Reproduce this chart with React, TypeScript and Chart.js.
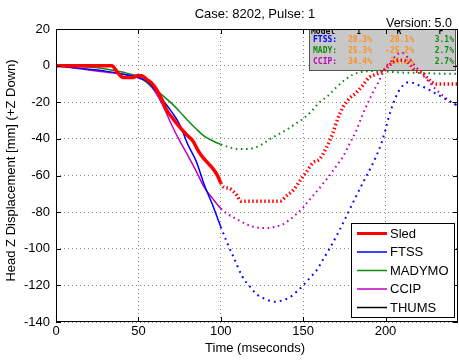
import React, { useEffect, useRef } from "react";
import { Chart, registerables } from "chart.js";

Chart.register(...registerables);

// ---------------- data ----------------
const chartTitle = "Case: 8202, Pulse: 1";
const versionText = "Version: 5.0";
const xAxisTitle = "Time (mseconds)";
const yAxisTitle = "Head Z Displacement [mm] (+Z Down)";

const xTickValues = [0, 50, 100, 150, 200];
const yTickValues = [20, 0, -20, -40, -60, -80, -100, -120, -140];
const xMin = 0;
const xMax = 244;
const yMin = -140;
const yMax = 20;
const predictionStart = 100; // after this time the curves are dotted

const sledTime = [0, 10, 20, 30, 34, 36, 39, 41, 47, 49, 52, 55, 58, 61, 64, 67, 71, 75, 79, 83, 86, 89, 92, 95, 98, 100,
  102, 105, 108, 110, 112, 120, 128, 136, 140, 144, 148, 152, 156, 160, 164, 168, 171, 174, 178, 182, 186, 190, 195, 199, 202, 206, 210, 214, 218, 222, 225, 228, 231, 236, 240, 244];
const sledDisp = [0, 0, 0, 0, 0, -2, -5.5, -6.5, -6.5, -5.5, -5.5, -7.5, -9.5, -13, -18, -24, -29, -33.5, -37.5, -41, -46, -50, -53, -56, -60, -64,
  -66.5, -67, -69, -71, -74, -74, -74, -74, -71, -68, -63, -58, -53, -51, -45, -37, -29, -23, -18, -15, -11, -6.5, -4.5, -2.7, 0, 2.5, 3, 1.5, -2.7, -3.6, -6.4, -9, -10, -10, -10, -10];

const ftssTime = [0, 10, 20, 30, 40, 50, 55, 60, 65, 70, 75, 80, 85, 90, 95, 100,
  104, 108, 113, 118, 122, 127, 133, 138, 142, 146, 150, 154, 158, 162, 166, 172, 178, 184, 188, 192, 196, 198, 200, 202, 205, 208, 211, 214, 217, 221, 225, 229, 233, 237, 240, 244];
const ftssDisp = [0, -1, -2, -3, -4.5, -6.5, -8.5, -13, -19, -25, -32, -43, -52, -65, -76, -88,
  -97, -105, -115, -121, -125, -127.5, -129, -128, -126.5, -123.5, -120, -116, -112, -106, -100, -90, -79, -68, -61, -54, -46, -41, -35, -28, -20, -14, -10.5, -9, -9.5, -11, -12.5, -14.5, -16.5, -18.5, -20, -22];

const madymoTime = [0, 10, 20, 30, 40, 50, 55, 60, 65, 70, 75, 80, 85, 90, 95, 100,
  105, 110, 115, 120, 125, 130, 135, 140, 145, 150, 155, 160, 165, 170, 175, 180, 185, 190, 195, 200, 210, 220, 230, 240, 244];
const madymoDisp = [0, -0.3, -0.8, -1.8, -3.5, -6, -9, -13, -16.5, -20.5, -25, -30, -34.5, -38.5, -41, -43,
  -44.5, -45.5, -45.5, -45, -43, -40, -37.5, -35, -32, -29, -25, -20, -16.5, -12, -8, -5, -3.5, -3, -3, -3.2, -3.8, -4, -4.3, -4.5, -4.5];

const ccipTime = [0, 10, 20, 30, 37, 45, 50, 55, 60, 65, 70, 75, 80, 85, 90, 95, 100,
  104, 108, 113, 118, 123, 128, 133, 138, 142, 146, 150, 154, 158, 162, 166, 170, 174, 178, 182, 186, 190, 193, 196, 200, 204, 207, 210, 213, 217, 221, 225, 229, 233, 237, 240, 244];
const ccipDisp = [0, -1.2, -2.4, -3.5, -4.3, -5.5, -6.7, -9, -14, -22, -32, -41, -49, -57.5, -66.5, -72.5, -78,
  -81, -83, -85.5, -87.5, -88.5, -88.7, -88, -86.5, -84, -81, -77.5, -73, -69, -64.5, -60, -55, -50, -43, -36, -27, -19, -13.5, -8.5, -1, 3, 6, 7, 5, 1, -3.5, -7.5, -11.5, -15, -18, -20, -22];

const thumsTime: number[] = [];
const thumsDisp: number[] = [];

const seriesNames = ["Sled", "FTSS", "MADYMO", "CCIP", "THUMS"];
const seriesColors = ["#ff0000", "#0000ff", "#108a10", "#c000c0", "#000000"];

const tableHeader = ["Model", "I", "R", "F"];
const tableModels = ["FTSS:", "MADY:", "CCIP:"];
const tableModelColors = ["#0000ff", "#108a10", "#c000c0"];
const tableI = ["28.3%", "25.3%", "34.4%"];
const tableR = ["28.1%", "-25.2%", "34.3%"];
const tableF = ["3.1%", "2.7%", "2.7%"];

// ---------------- helpers ----------------
const SANS = '"Liberation Sans", Arial, Helvetica, sans-serif';
const MONO = '"DejaVu Sans Mono", "Liberation Mono", monospace';

const toPoints = (t: number[], v: number[]) => t.map((x, i) => ({ x, y: v[i] }));

function lineDataset(label: string, t: number[], v: number[], color: string, solidW: number, dotW: number, dash: number[]) {
  return {
    label,
    data: toPoints(t, v),
    borderColor: color,
    backgroundColor: color,
    borderWidth: solidW,
    pointRadius: 0,
    tension: 0,
    cubicInterpolationMode: "monotone" as const,
    segment: {
      borderDash: (c: any) => (c.p0.parsed.x >= predictionStart ? dash : undefined),
      borderWidth: (c: any) => (c.p0.parsed.x >= predictionStart ? dotW : undefined),
    },
  };
}

const overlayPlugin = {
  id: "overlayPlugin",
  beforeDatasetsDraw(chart: any) {
    const { ctx, chartArea: a } = chart;
    // inset statistics table
    const left = a.right - 149;
    const right = a.right - 2;
    const top = a.top;
    const bottom = a.top + 42;
    ctx.save();
    ctx.fillStyle = "#c8c8c8";
    ctx.fillRect(left, top, right - left, bottom - top);
    ctx.strokeStyle = "#555555";
    ctx.lineWidth = 1;
    ctx.strokeRect(left + 0.5, top + 0.5, right - left - 1, bottom - top - 1);
    ctx.beginPath();
    ctx.rect(left, top, right - left, bottom - top);
    ctx.clip();
    ctx.font = `bold 8px ${MONO}`;
    ctx.textBaseline = "alphabetic";
    ctx.fillStyle = "#000";
    ctx.textAlign = "left";
    ctx.fillText(tableHeader[0], left + 2, top + 5);
    ctx.textAlign = "center";
    ctx.fillText(tableHeader[1], left + 50, top + 5);
    ctx.fillText(tableHeader[2], left + 90, top + 5);
    ctx.fillText(tableHeader[3], left + 132, top + 5);
    ctx.textBaseline = "middle";
    for (let i = 0; i < tableModels.length; i++) {
      const y = top + 10.5 + i * 11.4;
      ctx.textAlign = "left";
      ctx.fillStyle = tableModelColors[i];
      ctx.fillText(tableModels[i], left + 4, y);
      ctx.textAlign = "right";
      ctx.fillStyle = "#ff9020";
      ctx.fillText(tableI[i], left + 63, y);
      ctx.fillText(tableR[i], left + 105, y);
      ctx.fillStyle = "#108a10";
      ctx.fillText(tableF[i], left + 145, y);
    }
    ctx.restore();
  },
  afterDatasetsDraw(chart: any) {
    const { ctx, chartArea: a } = chart;
    ctx.save();
    // axes box
    ctx.strokeStyle = "#000";
    ctx.lineWidth = 1;
    ctx.strokeRect(Math.round(a.left) + 0.5, Math.round(a.top) + 0.5, Math.round(a.right - a.left) - 1, Math.round(a.bottom - a.top) - 1);
    // inner tick marks
    const xs = chart.scales.x;
    const ys = chart.scales.y;
    const tl = 5;
    ctx.beginPath();
    for (const v of xTickValues) {
      const px = Math.round(xs.getPixelForValue(v)) + 0.5;
      ctx.moveTo(px, a.bottom);
      ctx.lineTo(px, a.bottom - tl);
      ctx.moveTo(px, a.top);
      ctx.lineTo(px, a.top + tl);
    }
    for (const v of yTickValues) {
      const py = Math.round(ys.getPixelForValue(v)) + 0.5;
      ctx.moveTo(a.left, py);
      ctx.lineTo(a.left + tl, py);
      ctx.moveTo(a.right, py);
      ctx.lineTo(a.right - tl, py);
    }
    ctx.stroke();

    // legend
    const lx0 = a.right - 107;
    const lx1 = a.right - 3;
    const ly0 = a.bottom - 99;
    const ly1 = a.bottom - 4;
    ctx.fillStyle = "#fff";
    ctx.fillRect(lx0, ly0, lx1 - lx0, ly1 - ly0);
    ctx.strokeStyle = "#000";
    ctx.strokeRect(lx0 + 0.5, ly0 + 0.5, lx1 - lx0 - 1, ly1 - ly0 - 1);
    ctx.font = `13px ${SANS}`;
    ctx.textBaseline = "middle";
    ctx.textAlign = "left";
    for (let i = 0; i < seriesNames.length; i++) {
      const y = ly0 + 10.5 + i * 18.5;
      ctx.strokeStyle = seriesColors[i];
      ctx.lineWidth = i === 0 ? 3 : 1.5;
      ctx.beginPath();
      ctx.moveTo(lx0 + 6, y);
      ctx.lineTo(lx0 + 36, y);
      ctx.stroke();
      ctx.fillStyle = "#000";
      ctx.fillText(seriesNames[i], lx0 + 39, y + 0.5);
    }
    ctx.restore();
  },
  afterDraw(chart: any) {
    const { ctx, chartArea: a } = chart;
    ctx.save();
    ctx.fillStyle = "#000";
    ctx.font = `13px ${SANS}`;
    ctx.textAlign = "center";
    ctx.textBaseline = "middle";
    ctx.fillText(chartTitle, (a.left + a.right) / 2 - 2, 14);
    ctx.fillText(xAxisTitle, (a.left + a.right) / 2 - 2, 348);
    ctx.save();
    ctx.translate(11, (a.top + a.bottom) / 2 - 5);
    ctx.rotate(-Math.PI / 2);
    ctx.fillText(yAxisTitle, 0, 0);
    ctx.restore();
    ctx.textAlign = "right";
    ctx.textBaseline = "alphabetic";
    ctx.font = `12.5px ${SANS}`;
    ctx.fillText(versionText, a.right - 6, 26.5);
    ctx.restore();
  },
};

export default function App() {
  const canvasRef = useRef<HTMLCanvasElement | null>(null);

  useEffect(() => {
    document.body.style.margin = "0";
    const canvas = canvasRef.current;
    if (!canvas) return;
    const chart = new Chart(canvas, {
      type: "line",
      data: {
        datasets: [
          lineDataset(seriesNames[0], sledTime, sledDisp, seriesColors[0], 3.5, 3.5, [1.5, 2.5]),
          lineDataset(seriesNames[1], ftssTime, ftssDisp, seriesColors[1], 1.5, 2, [1.8, 4.2]),
          lineDataset(seriesNames[2], madymoTime, madymoDisp, seriesColors[2], 1.5, 2, [1.6, 3.6]),
          lineDataset(seriesNames[3], ccipTime, ccipDisp, seriesColors[3], 1.5, 2, [1.6, 3.6]),
          lineDataset(seriesNames[4], thumsTime, thumsDisp, seriesColors[4], 1.5, 1.5, [1.5, 3.5]),
        ],
      },
      options: {
        responsive: false,
        animation: false,
        devicePixelRatio: 1,
        layout: { padding: { top: 29, right: 1, left: 0, bottom: 0 } },
        plugins: {
          legend: { display: false },
          title: { display: false },
          tooltip: { enabled: false },
        },
        scales: {
          x: {
            type: "linear",
            min: xMin,
            max: xMax,
            afterFit: (s: any) => {
              s.height = 38;
            },
            afterBuildTicks: (s: any) => {
              s.ticks = xTickValues.map((v) => ({ value: v }));
            },
            ticks: {
              color: "#000",
              font: { family: SANS, size: 13 },
              padding: 2,
              maxRotation: 0,
              autoSkip: false,
            },
            grid: {
              color: "#8a8a8a",
              lineWidth: 1,
              drawTicks: false,
              tickLength: 0,
            },
            border: { display: false, dash: [1, 3] },
          },
          y: {
            type: "linear",
            min: yMin,
            max: yMax,
            afterFit: (s: any) => {
              s.width = 56;
            },
            afterBuildTicks: (s: any) => {
              s.ticks = yTickValues.map((v) => ({ value: v }));
            },
            ticks: {
              color: "#000",
              font: { family: SANS, size: 13 },
              padding: 6,
              autoSkip: false,
            },
            grid: {
              color: "#8a8a8a",
              lineWidth: 1,
              drawTicks: false,
              tickLength: 0,
            },
            border: { display: false, dash: [1, 3] },
          },
        },
      },
      plugins: [overlayPlugin],
    });
    return () => chart.destroy();
  }, []);

  return (
    <div style={{ width: 459, height: 360, background: "#fff" }}>
      <canvas ref={canvasRef} width={459} height={360} style={{ display: "block" }} />
    </div>
  );
}
